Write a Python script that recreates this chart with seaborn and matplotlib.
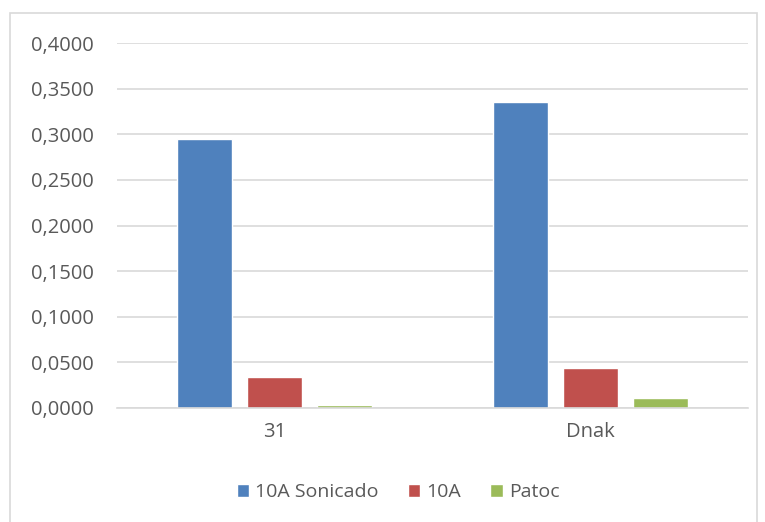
import matplotlib
matplotlib.use("Agg")
import matplotlib.pyplot as plt
import seaborn as sns
import pandas as pd
from matplotlib.patches import Rectangle
from matplotlib.ticker import FuncFormatter

categories = ["31", "Dnak"]
series = ["10A Sonicado", "10A", "Patoc"]
sonicado = [0.2945, 0.3350]
a10 = [0.0336, 0.0438]
patoc = [0.0030, 0.0110]
colors = ["#4F81BD", "#C0504D", "#9BBB59"]
yticks = [0.0, 0.05, 0.10, 0.15, 0.20, 0.25, 0.30, 0.35, 0.40]

rows = []
for s, vals in zip(series, [sonicado, a10, patoc]):
    for c, v in zip(categories, vals):
        rows.append({"cat": c, "series": s, "value": v})
df = pd.DataFrame(rows)

sns.set_style("white")
plt.rcParams['font.family'] = ['Open Sans', 'DejaVu Sans']
text_color = "#595959"

fig = plt.figure(figsize=(7.65, 5.22), dpi=100)
ax = fig.add_axes([117/765, 1 - 408/522, (748-117)/765, (408-43)/522])

sns.barplot(data=df, x="cat", y="value", hue="series", order=categories,
            hue_order=series, palette=colors, width=0.665, gap=0.214,
            ax=ax, legend=True, saturation=1)

ax.set_ylim(0, 0.4)
ax.set_xlim(-0.5, 1.5)
ax.set_yticks(yticks)
ax.yaxis.set_major_formatter(FuncFormatter(lambda v, p: f"{v:.4f}".replace(".", ",")))
ax.grid(axis="y", color="#d9d9d9", linewidth=1.2)
ax.set_axisbelow(True)
for sp in ["left", "right", "top"]:
    ax.spines[sp].set_visible(False)
ax.spines["bottom"].set_color("#d9d9d9")
ax.spines["bottom"].set_linewidth(1.2)
ax.tick_params(axis="both", length=0, labelsize=14.5, labelcolor=text_color)
ax.tick_params(axis="y", pad=17)
ax.tick_params(axis="x", pad=10)
ax.set_xlabel("")
ax.set_ylabel("")

handles, labels = ax.get_legend_handles_labels()
ax.get_legend().remove()
fig.legend(handles, labels, loc="center", bbox_to_anchor=(398/765, 1 - 492/522),
           ncol=3, frameon=False, fontsize=14, labelcolor=text_color,
           handlelength=0.65, handleheight=0.65, handletextpad=0.3, columnspacing=1.5)

fig.patches.append(Rectangle((10/765, -0.01), (757-10)/765, 1 - 13/522 + 0.01,
                             transform=fig.transFigure, fill=False,
                             edgecolor="#d9d9d9", linewidth=1.2))

fig.savefig("out.png", dpi=100)
